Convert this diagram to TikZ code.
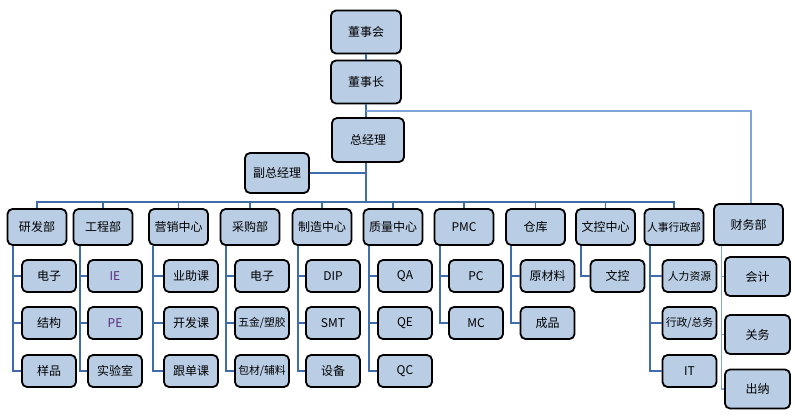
\documentclass[tikz,border=0pt]{standalone}
\usepackage{fontspec}
\setmainfont{Noto Sans CJK SC}
\definecolor{boxfill}{HTML}{B9CDE5}
\definecolor{connc}{HTML}{3F6DAA}
\definecolor{lightc}{HTML}{7EA4DA}
\definecolor{iecol}{HTML}{5A2A7A}
\tikzset{
  box/.style={draw=black, line width=1.8pt, fill=boxfill, rounded corners=5pt, inner sep=0pt, font=\fontsize{12}{12}\selectfont, text=black},
  dept/.style={box, minimum width=59pt, minimum height=36pt},
  kid/.style={box, minimum width=54pt, minimum height=32pt},
  fkid/.style={box, minimum width=65pt, minimum height=39pt},
  top/.style={box, minimum width=70pt, minimum height=43pt},
  conn/.style={draw=connc, line width=1.8pt},
  lightconn/.style={draw=lightc, line width=1.2pt},
  small/.style={font=\fontsize{10.8}{11}\selectfont}
}
\begin{document}
\begin{tikzpicture}[x=1pt,y=-1pt]
\useasboundingbox (0,0) rectangle (795,420);
% coordinates
\coordinate (bus) at (366,202);
\coordinate (cwj) at (366,111);
% top nodes
\node[top] (dsh) at (366,32) {董事会};
\node[top] (dsz) at (366,82) {董事长};
\node[top, minimum width=72pt, minimum height=44pt] (zjl) at (368,140) {总经理};
\node[box, minimum width=64pt, minimum height=40pt] (fzj) at (277,173) {副总经理};
% departments
\node[dept] (yf) at (37,227) {研发部};
\node[dept] (gc) at (103,227) {工程部};
\node[dept] (yx) at (178.5,227) {营销中心};
\node[dept] (cg) at (250,227) {采购部};
\node[dept] (zz) at (322,227) {制造中心};
\node[dept] (zl) at (393,227) {质量中心};
\node[dept] (pmc) at (464,227) {PMC};
\node[dept] (ck) at (535.5,227) {仓库};
\node[dept] (wk) at (605.5,227) {文控中心};
\node[dept, small] (rs) at (674,227) {人事行政部};
\node[box, minimum width=69pt, minimum height=41pt] (cw) at (748.5,224.5) {财务部};
% children
\node[kid] (yf1) at (49,276) {电子};
\node[kid] (yf2) at (49,323) {结构};
\node[kid] (yf3) at (49,371) {样品};
\node[kid, text=iecol] (gc1) at (115,276) {IE};
\node[kid, text=iecol] (gc2) at (115,323) {PE};
\node[kid] (gc3) at (115,371) {实验室};
\node[kid] (yx1) at (191,276) {业助课};
\node[kid] (yx2) at (191,323) {开发课};
\node[kid] (yx3) at (191,371) {跟单课};
\node[kid] (cg1) at (262,276) {电子};
\node[kid, small] (cg2) at (262,323) {五金/塑胶};
\node[kid, small] (cg3) at (262,371) {包材/辅料};
\node[kid] (zz1) at (333,276) {DIP};
\node[kid] (zz2) at (333,323) {SMT};
\node[kid] (zz3) at (333,371) {设备};
\node[kid] (zl1) at (405,276) {QA};
\node[kid] (zl2) at (405,323) {QE};
\node[kid] (zl3) at (405,371) {QC};
\node[kid] (pmc1) at (476,276) {PC};
\node[kid] (pmc2) at (476,323) {MC};
\node[kid] (ck1) at (547.5,276) {原材料};
\node[kid] (ck2) at (547.5,323) {成品};
\node[kid] (wk1) at (617.5,276) {文控};
\node[kid, small] (rs1) at (689.5,276) {人力资源};
\node[kid, small] (rs2) at (689.5,323) {行政/总务};
\node[kid] (rs3) at (689.5,371) {IT};
\node[fkid] (cw1) at (757.5,276.5) {会计};
\node[fkid] (cw2) at (757.5,334.5) {关务};
\node[fkid] (cw3) at (757.5,389) {出纳};
% connectors
\draw[conn] (dsh.south) -- (dsz.north);
\draw[conn] (dsz.south) -- (dsz.south |- zjl.north);
\draw[conn] (bus |- zjl.south) -- (bus);
\draw[conn] (fzj.east) -- (fzj.east -| bus);
\draw[lightconn] (cwj) -| ([xshift=2.5pt]cw.north);
\draw[conn] (yf.north) |- (bus) -| (rs.north);
\foreach \d in {gc,yx,cg,zz,zl,pmc,ck,wk}{
  \draw[conn] (\d.north) -- (\d.north |- bus);
}
% child connectors
\foreach \c in {yf1,yf2,yf3}{\draw[conn] ([xshift=6pt]yf.south west) |- (\c.west);}
\foreach \c in {gc1,gc2,gc3}{\draw[conn] ([xshift=7pt]gc.south west) |- (\c.west);}
\foreach \c in {yx1,yx2,yx3}{\draw[conn] ([xshift=5pt]yx.south west) |- (\c.west);}
\foreach \c in {cg1,cg2,cg3}{\draw[conn] ([xshift=6pt]cg.south west) |- (\c.west);}
\foreach \c in {zz1,zz2,zz3}{\draw[conn] ([xshift=6pt]zz.south west) |- (\c.west);}
\foreach \c in {zl1,zl2,zl3}{\draw[conn] ([xshift=6pt]zl.south west) |- (\c.west);}
\foreach \c in {pmc1,pmc2}{\draw[conn] ([xshift=6pt]pmc.south west) |- (\c.west);}
\foreach \c in {ck1,ck2}{\draw[conn] ([xshift=6pt]ck.south west) |- (\c.west);}
\foreach \c in {wk1}{\draw[conn] ([xshift=6pt]wk.south west) |- (\c.west);}
\foreach \c in {rs1,rs2,rs3}{\draw[conn] ([xshift=6pt]rs.south west) |- (\c.west);}
\foreach \c in {cw1,cw2,cw3}{\draw[lightconn] ([xshift=8pt]cw.south west) |- (\c.west);}
\end{tikzpicture}
\end{document}
